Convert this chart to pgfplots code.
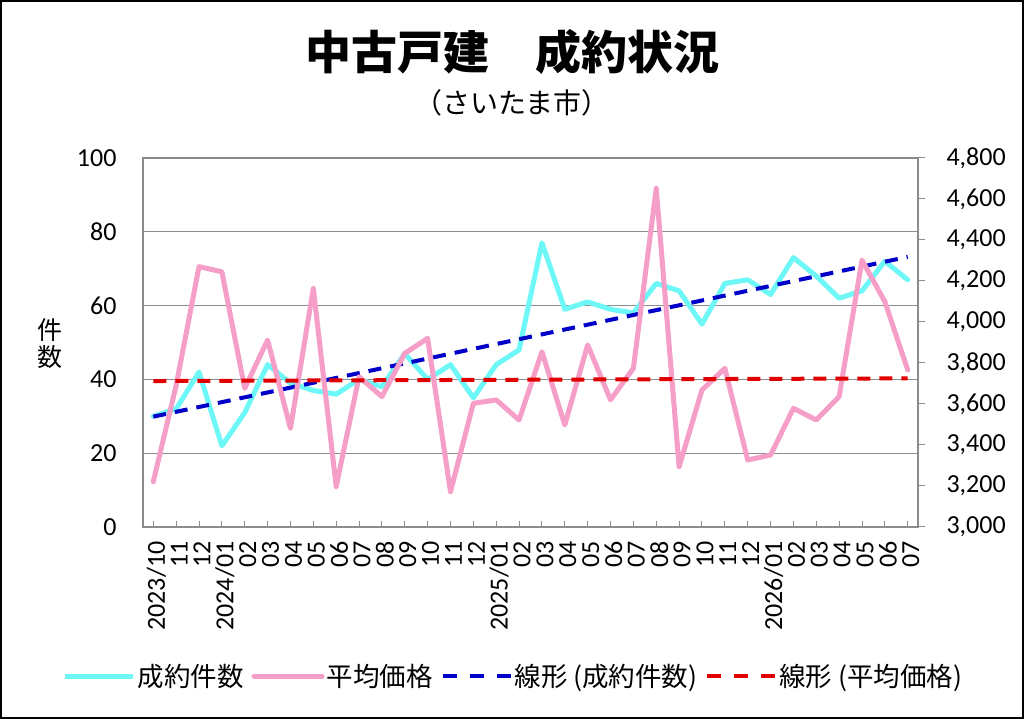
\documentclass[border=0pt]{standalone}
\usepackage{fontspec}
\setmainfont{Carlito}
\newfontfamily\jp{Noto Sans CJK JP}
\usepackage{pgfplots}
\usepackage{pgfplotstable}
\pgfplotsset{compat=1.18}
\definecolor{cy}{RGB}{110,247,247}
\definecolor{pk}{RGB}{245,158,200}
\definecolor{bl}{RGB}{0,0,200}
\definecolor{rd}{RGB}{225,0,0}
\definecolor{gr}{RGB}{140,140,140}

\pgfplotstableread{
x n p
0 30 3221
1 32 3690
2 42 4270
3 22 4245
4 31 3676
5 44 3912
6 39 3481
7 37 4164
8 36 3197
9 40 3733
10 38 3636
11 47 3847
12 40 3920
13 44 3172
14 35 3603
15 44 3620
16 48 3522
17 77 3855
18 59 3498
19 61 3888
20 59 3620
21 58 3774
22 66 4652
23 64 3294
24 55 3668
25 66 3774
26 67 3327
27 63 3351
28 73 3579
29 68 3522
30 62 3636
31 64 4302
32 72 4099
33 67 3766
}\data

\begin{document}
\begin{tikzpicture}
\path[use as bounding box] (0,0) rectangle (1024pt,719pt);
\draw[line width=2pt] (1pt,1pt) rectangle (1023pt,718pt);
\node[font=\jp\bfseries\fontsize{46}{50}\selectfont] at (512pt,667pt) {中古戸建　成約状況};
\node[font=\jp\fontsize{28}{30}\selectfont] at (512pt,616pt) {（さいたま市）};
\node[font=\jp\fontsize{25}{27}\selectfont, align=center] at (50pt,375pt) {件\\数};

\begin{axis}[
  at={(143pt,192pt)}, anchor=south west,
  width=775pt, height=369pt, scale only axis,
  xmin=-0.45, xmax=33.45, ymin=0, ymax=100,
  ytick={0,20,...,100},
  xtick={0,...,33},
  xticklabels={2023/10,11,12,2024/01,02,03,04,05,06,07,08,09,10,11,12,2025/01,02,03,04,05,06,07,08,09,10,11,12,2026/01,02,03,04,05,06,07},
  xtick pos=bottom, ytick pos=left,
  ymajorgrids, grid style={gr, line width=1.3pt},
  axis line style={gr, line width=1.3pt},
  x tick style={gr, line width=1pt}, major tick length=6pt,
  y tick style={draw=none},
  xticklabel style={rotate=90, anchor=east, font=\fontsize{26}{28}\selectfont, xshift=-11pt, yshift=-3pt},
  yticklabel style={font=\fontsize{26}{28}\selectfont, xshift=-23pt},
  /pgf/number format/assume math mode=true,
]
\addplot[cy, line width=5pt, line join=round, line cap=round] table[x=x, y=n] {\data};
\addplot[bl, line width=4pt, dash pattern=on 13pt off 9pt] coordinates {(0,29.9) (33,73.2)};
\end{axis}

\begin{axis}[
  at={(143pt,192pt)}, anchor=south west,
  width=775pt, height=369pt, scale only axis,
  xmin=-0.45, xmax=33.45, ymin=3000, ymax=4800,
  ytick={3000,3200,...,4800},
  axis x line=none, axis y line*=right,
  axis line style={gr, line width=1.3pt},
  y tick style={gr, line width=1pt}, tick align=outside, major tick length=7pt,
  yticklabel style={font=\fontsize{26}{28}\selectfont, xshift=18pt},
  /pgf/number format/assume math mode=true,
  /pgf/number format/1000 sep={,},
  legend style={at={(0.478,-0.404)}, anchor=center, draw=none, fill=none,
    font=\jp\fontsize{26.5}{28}\selectfont,
    /tikz/every even column/.append style={column sep=6pt}},
  legend columns=4,
  legend image code/.code={\draw[#1] (0pt,0pt) -- (68pt,0pt);},
]
\addlegendimage{cy, line width=5pt}
\addlegendentry{成約件数}
\addplot[pk, line width=5pt, line join=round, line cap=round] table[x=x, y=p] {\data};
\addlegendentry{平均価格}
\addlegendimage{bl, line width=4pt, dash pattern=on 14pt off 13pt}
\addlegendentry{線形 (成約件数)}
\addplot[rd, line width=4pt, dash pattern=on 13pt off 9pt,
  forget plot] coordinates {(0,3712) (33,3725)};
\addlegendimage{rd, line width=4pt, dash pattern=on 14pt off 13pt}
\addlegendentry{線形 (平均価格)}
\end{axis}
\end{tikzpicture}
\end{document}
